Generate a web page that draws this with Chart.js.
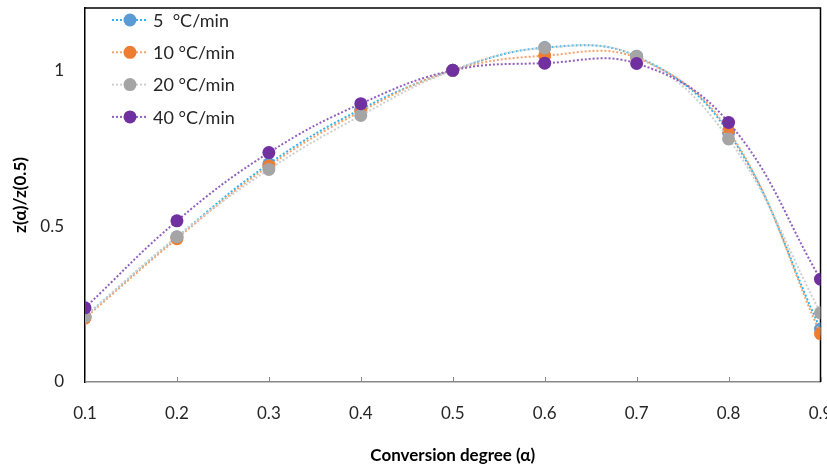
<!DOCTYPE html>
<html lang="en">
<head>
<meta charset="UTF-8">
<title>z(α)/z(0.5) vs conversion degree</title>
<script src="https://cdn.jsdelivr.net/npm/chart.js"></script>
<style>
  html, body { margin: 0; padding: 0; background: #fff; }
  #wrap { width: 827px; height: 469px; }
</style>
</head>
<body>
<div id="wrap"><canvas id="zChart" width="827" height="469"></canvas></div>
<script>
// conversion degree
const alphas = [0.1, 0.2, 0.3, 0.4, 0.5, 0.6, 0.7, 0.8, 0.9];
// z(a)/z(0.5) for each heating rate
const rate5 = [0.21, 0.465, 0.70, 0.875, 1.0, 1.073, 1.045, 0.80, 0.17];
const rate10 = [0.205, 0.46, 0.693, 0.868, 1.0, 1.047, 1.04, 0.806, 0.155];
const rate20 = [0.21, 0.466, 0.682, 0.855, 1.0, 1.072, 1.045, 0.78, 0.222];
const rate40 = [0.238, 0.517, 0.736, 0.893, 1.0, 1.023, 1.022, 0.833, 0.33];
const seriesNames = ['5  °C/min', '10 °C/min', '20 °C/min', '40 °C/min'];
const yTicks = [0, 0.5, 1];

const FONT = 'Lato, "Open Sans", sans-serif';

function pts(vals) {
    return alphas.map((a, i) => ({ x: a, y: vals[i] }));
}

function makeSet(label, vals, marker, line, order) {
    return {
        label: label,
        data: pts(vals),
        borderColor: line,
        backgroundColor: marker,
        pointBackgroundColor: marker,
        pointBorderColor: marker,
        pointRadius: 6.5,
        pointBorderWidth: 0,
        borderWidth: 2,
        borderDash: [2, 2],
        tension: 0.4,
        order: order
    };
}

// frame, inward x ticks and legend
const decor = {
    id: 'decor',
    beforeDatasetsDraw(chart) {
        const ctx = chart.ctx;
        const a = chart.chartArea;
        const xs = chart.scales.x;
        ctx.save();
        ctx.strokeStyle = '#000';
        ctx.lineWidth = 1.5;
        ctx.beginPath();
        ctx.moveTo(a.left, a.top);
        ctx.lineTo(a.right, a.top);
        ctx.lineTo(a.right, a.bottom);
        ctx.stroke();
        ctx.strokeStyle = '#888';
        ctx.lineWidth = 1;
        alphas.forEach(v => {
            const px = Math.round(xs.getPixelForValue(v)) + 0.5;
            ctx.beginPath();
            ctx.moveTo(px, a.bottom);
            ctx.lineTo(px, a.bottom - 5);
            ctx.stroke();
        });
        ctx.restore();
    },
    afterDatasetsDraw(chart) {
        const ctx = chart.ctx;
        ctx.save();
        ctx.font = '18px ' + FONT;
        ctx.textBaseline = 'middle';
        chart.data.datasets.forEach((ds, i) => {
            const y = 20 + i * 32.3;
            ctx.strokeStyle = ds.borderColor;
            ctx.lineWidth = 2;
            ctx.setLineDash([2, 2]);
            ctx.beginPath();
            ctx.moveTo(112, y);
            ctx.lineTo(147, y);
            ctx.stroke();
            ctx.setLineDash([]);
            ctx.fillStyle = ds.pointBackgroundColor;
            ctx.beginPath();
            ctx.arc(130, y, 6.5, 0, Math.PI * 2);
            ctx.fill();
            ctx.fillStyle = '#262626';
            ctx.fillText(ds.label, 153, y + 1);
        });
        ctx.restore();
    }
};

new Chart(document.getElementById('zChart'), {
    type: 'line',
    data: {
        datasets: [
            makeSet(seriesNames[0], rate5, '#5B9BD5', '#2FB4F0', 4),
            makeSet(seriesNames[1], rate10, '#ED7D31', '#F4A46E', 3),
            makeSet(seriesNames[2], rate20, '#A5A5A5', '#CFCFCF', 2),
            makeSet(seriesNames[3], rate40, '#7030A0', '#9160BF', 1)
        ]
    },
    options: {
        responsive: false,
        animation: false,
        layout: { padding: { top: 8, right: 5, left: 0, bottom: 0 } },
        plugins: {
            legend: { display: false },
            tooltip: { enabled: false }
        },
        scales: {
            x: {
                type: 'linear',
                min: 0.1,
                max: 0.9,
                grid: { display: false },
                border: { color: '#888', width: 1.5 },
                ticks: {
                    stepSize: 0.1,
                    padding: 13,
                    color: '#262626',
                    font: { family: FONT, size: 17 },
                    maxRotation: 0,
                    callback: v => v.toFixed(1)
                },
                title: {
                    display: true,
                    text: 'Conversion degree (α)',
                    color: '#000',
                    font: { family: FONT, size: 17, weight: 'bold' },
                    padding: { top: 0, bottom: 3 }
                },
                afterFit(s) {
                    s.height = 87;
                    s.paddingLeft = 0;
                    s.paddingRight = 0;
                }
            },
            y: {
                min: 0,
                max: 1.2,
                grid: { display: false },
                border: { color: '#000', width: 1.5 },
                afterBuildTicks(s) {
                    s.ticks = yTicks.map(v => ({ value: v }));
                },
                ticks: {
                    padding: 13,
                    color: '#262626',
                    font: { family: FONT, size: 17 },
                    callback: v => String(v)
                },
                title: {
                    display: true,
                    text: 'z(α)/z(0.5)',
                    color: '#000',
                    font: { family: FONT, size: 17, weight: 'bold' },
                    padding: { top: 10, bottom: 0 }
                },
                afterFit(s) {
                    s.width = 85;
                    s.paddingTop = 0;
                    s.paddingBottom = 0;
                }
            }
        }
    },
    plugins: [decor]
});
</script>
</body>
</html>
